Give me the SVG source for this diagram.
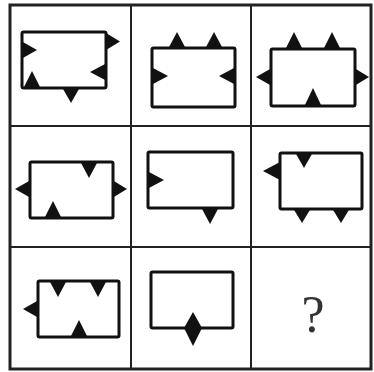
<svg xmlns="http://www.w3.org/2000/svg" width="374" height="372" viewBox="0 0 374 372">
<style>
.grid{fill:none;stroke:#222;stroke-width:2}
.outer{fill:none;stroke:#222;stroke-width:3}
.box{fill:#fff;stroke:#111;stroke-width:3;stroke-linejoin:round}
.t{fill:#111}
.q{font-family:"Liberation Serif",serif;font-size:52px;fill:#333}
</style>
<rect width="374" height="372" fill="#fff"/>
<g id="grid">
<rect class="outer" x="10" y="5" width="361" height="364"/>
<line class="grid" x1="131" y1="5" x2="131" y2="369"/>
<line class="grid" x1="251" y1="5" x2="251" y2="369"/>
<line class="grid" x1="10" y1="126" x2="371" y2="126"/>
<line class="grid" x1="10" y1="247" x2="371" y2="247"/>
</g>
<g id="cell1">
<rect class="box" x="22" y="32" width="84" height="56" rx="1.5"/>
<polygon class="t" points="22,41.5 37,50 22,58.5"/>
<polygon class="t" points="106,33 120,41.5 106,50"/>
<polygon class="t" points="106,63.5 90,72 106,80.5"/>
<polygon class="t" points="23.5,88 32,71 40.5,88"/>
<polygon class="t" points="62.5,88 71,103 79.5,88"/>
</g>
<g id="cell2">
<rect class="box" x="152" y="48" width="83" height="59" rx="1.5"/>
<polygon class="t" points="168.5,48 177,32 185.5,48"/>
<polygon class="t" points="205.5,48 214,32 222.5,48"/>
<polygon class="t" points="152,67.5 168,76 152,84.5"/>
<polygon class="t" points="235,67.5 219,76 235,84.5"/>
</g>
<g id="cell3">
<rect class="box" x="271" y="49" width="84" height="57" rx="1.5"/>
<polygon class="t" points="285.5,49 294,32 302.5,49"/>
<polygon class="t" points="323.5,49 332,32 340.5,49"/>
<polygon class="t" points="271,68.5 256,77 271,85.5"/>
<polygon class="t" points="355,68.5 369,77 355,85.5"/>
<polygon class="t" points="304.5,106 313,88 321.5,106"/>
</g>
<g id="cell4">
<rect class="box" x="30" y="162" width="83" height="56" rx="1.5"/>
<polygon class="t" points="80.5,162 89,178 97.5,162"/>
<polygon class="t" points="30,180.5 15,189 30,197.5"/>
<polygon class="t" points="113,180.5 127,189 113,197.5"/>
<polygon class="t" points="44.5,218 53,201 61.5,218"/>
</g>
<g id="cell5">
<rect class="box" x="148" y="152" width="85" height="56" rx="1.5"/>
<polygon class="t" points="148,171.5 164,180 148,188.5"/>
<polygon class="t" points="201.5,208 210,224 218.5,208"/>
</g>
<g id="cell6">
<rect class="box" x="280" y="153" width="82" height="56" rx="1.5"/>
<polygon class="t" points="295.5,153 304,168 312.5,153"/>
<polygon class="t" points="280,162 263,171 280,180"/>
<polygon class="t" points="293.5,209 302,223 310.5,209"/>
<polygon class="t" points="332.5,209 341,223 349.5,209"/>
</g>
<g id="cell7">
<rect class="box" x="38" y="281" width="81" height="56" rx="1.5"/>
<polygon class="t" points="49.5,281 58,297 66.5,281"/>
<polygon class="t" points="89.5,281 98,297 106.5,281"/>
<polygon class="t" points="38,300.5 23,309 38,317.5"/>
<polygon class="t" points="70.5,337 79,320 87.5,337"/>
</g>
<g id="cell8">
<rect class="box" x="151" y="272" width="82" height="56" rx="1.5"/>
<polygon class="t" points="193,312 202,328 193,346 184,328"/>
</g>
<g id="cell9">
<text class="q" x="313" y="332" text-anchor="middle">?</text>
</g>
</svg>
